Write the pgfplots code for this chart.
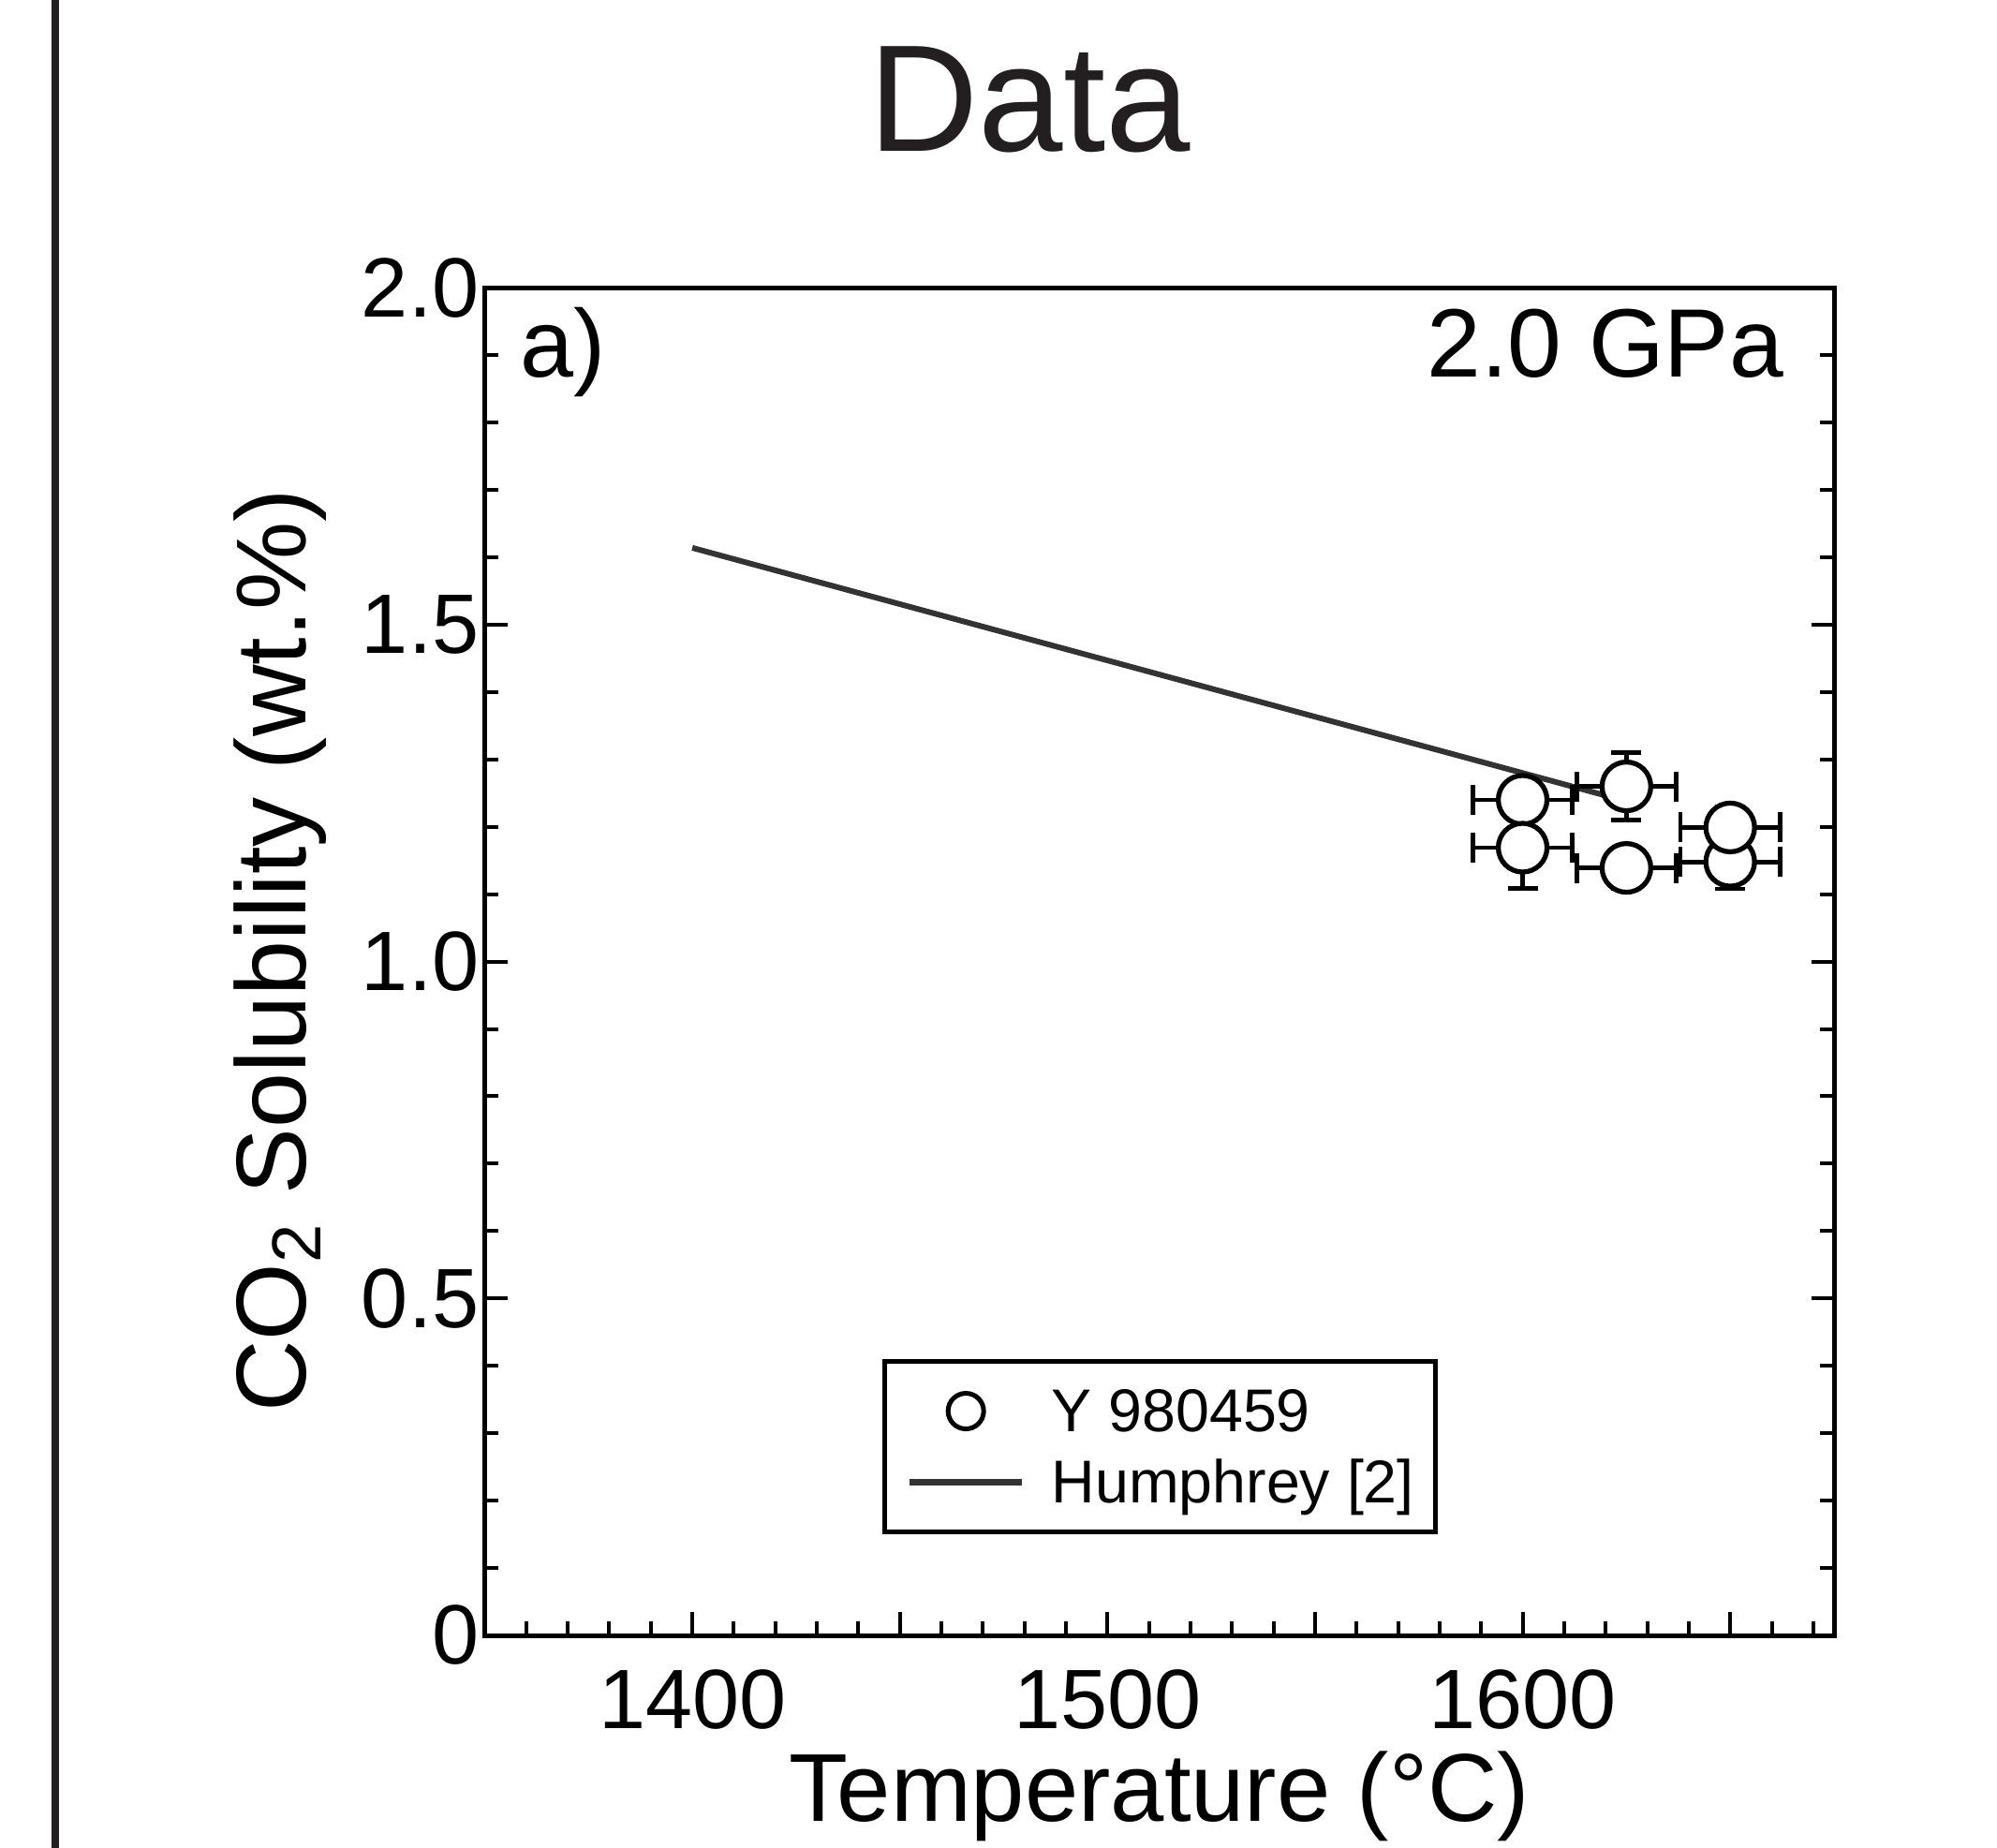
\documentclass[border=0pt]{standalone}
\usepackage{fontspec}
\setmainfont{Liberation Sans}
\usepackage{pgfplots}
\pgfplotsset{compat=1.18}
\definecolor{lineGray}{HTML}{333333}
\definecolor{frameGray}{HTML}{231F20}
\pgfplotstableread{
x y ex ey
1600 1.240 12 0.03
1600 1.169 12 0.06
1625 1.139 12 0.03
1625 1.260 12 0.05
1650 1.148 12 0.04
1650 1.199 12 0.03
}\ydata
\begin{document}
\begin{tikzpicture}
\path[use as bounding box] (0,0) rectangle (426.4pt,394.4pt);
\draw[frameGray, line width=1.6pt] (11.8pt,-1pt) -- (11.8pt,396pt);
\node[anchor=base, inner sep=0pt, font=\fontsize{32.5}{32.5}\selectfont, text=frameGray] at (219.8pt,362pt) {Data};
\begin{axis}[
  at={(103.5pt,45.2pt)}, anchor=south west,
  scale only axis, width=288.1pt, height=287.76pt,
  xmin=1350, xmax=1675, ymin=0, ymax=2,
  xtick={1350,1400,1450,1500,1550,1600,1650},
  xticklabels={,1400,,1500,,1600,},
  minor xtick={1360,1370,1380,1390,1410,1420,1430,1440,1460,1470,1480,1490,1510,1520,1530,1540,1560,1570,1580,1590,1610,1620,1630,1640,1660,1670},
  ytick={0,0.5,1,1.5,2},
  yticklabels={0,0.5,1.0,1.5,2.0},
  minor ytick={0.1,0.2,0.3,0.4,0.6,0.7,0.8,0.9,1.1,1.2,1.3,1.4,1.6,1.7,1.8,1.9},
  xtick pos=left, ytick pos=both, yticklabel pos=left,
  tick align=inside,
  major tick length=4.9pt, minor tick length=3pt,
  axis line style={line width=1pt},
  tick style={line width=0.8pt, black},
  tick label style={font=\fontsize{18}{18}\selectfont},
  xticklabel style={yshift=-3.7pt},
  yticklabel style={xshift=2.25pt},
  xlabel={Temperature (°C)},
  xlabel style={at={(axis description cs:0.5,-0.1383)}, anchor=base, font=\fontsize{20.6}{20.6}\selectfont},
  ylabel={CO\textsubscript{2} Solubility (wt.\%)},
  ylabel style={at={(axis description cs:-0.1326,0.5083)}, anchor=base, font=\fontsize{21.2}{21.2}\selectfont},
  legend style={at={(axis description cs:0.295,0.205)}, anchor=north west, draw=black, line width=1pt,
    inner xsep=4.6pt, inner ysep=3pt, column sep=5.65pt, row sep=0pt,
    font=\fontsize{12.9}{12.9}\selectfont,
    nodes={inner sep=0pt, text height=12pt, text depth=3.2pt}},
  legend cell align=left,
]
\addplot[lineGray, line width=1.2pt, forget plot] coordinates {(1400,1.614) (1625,1.238)};
\addplot[only marks, mark=*, mark size=5.2pt,
  mark options={fill=white, draw=black, line width=1.05pt},
  legend image code/.code={\draw[black, line width=1pt, fill=white] (12pt,0pt) circle[radius=3.8pt];},
  error bars/.cd, x dir=both, x explicit, y dir=both, y explicit,
  error bar style={line width=0.95pt, black},
  error mark options={line width=0.95pt, mark size=3.2pt, black, rotate=90}]
  table[x=x, y=y, x error=ex, y error=ey] {\ydata};
\addlegendentry{Y 980459}
\addlegendimage{legend image code/.code={\draw[lineGray, line width=1.3pt] (0pt,0pt) -- (24pt,0pt);}}
\addlegendentry{Humphrey [2]}
\node[anchor=base west, inner sep=0pt, font=\fontsize{20.5}{20.5}\selectfont] at (axis description cs:0.0254,0.934) {a)};
\node[anchor=base east, inner sep=0pt, font=\fontsize{20.75}{20.75}\selectfont] at (axis description cs:0.9632,0.934) {2.0 GPa};
\end{axis}
\end{tikzpicture}
\end{document}
